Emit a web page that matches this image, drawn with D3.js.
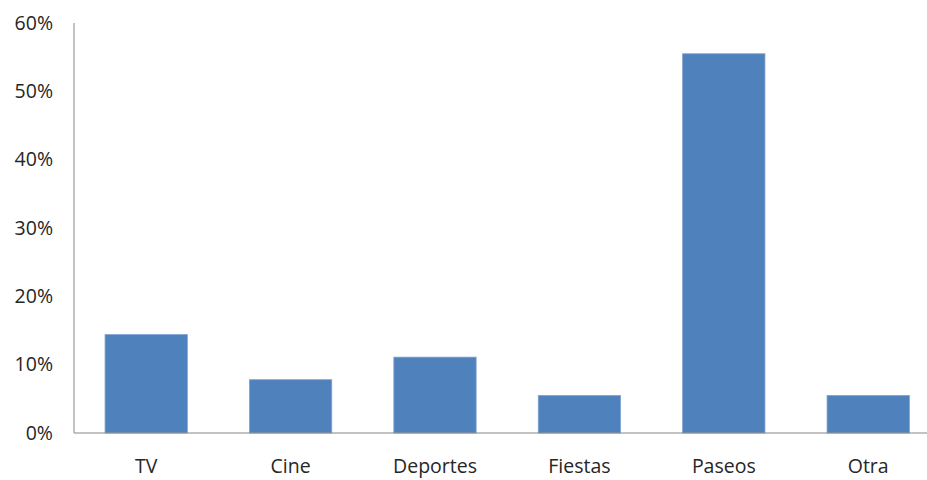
<!DOCTYPE html>
<html>
<head>
<meta charset="utf-8">
<script src="https://cdn.jsdelivr.net/npm/d3@7"></script>
<style>
  body { margin: 0; background: #fff; }
  text { font-family: "Open Sans", "DejaVu Sans", sans-serif; fill: #262626; }
</style>
</head>
<body>
<svg id="chart" width="927" height="480"></svg>
<script>
var categories = ["TV", "Cine", "Deportes", "Fiestas", "Paseos", "Otra"]
var values = [0.144, 0.078, 0.111, 0.055, 0.555, 0.055]
var yTicks = [0, 0.1, 0.2, 0.3, 0.4, 0.5, 0.6]

var svg = d3.select("#chart")
var plotLeft = 74, plotRight = 940.4, plotTop = 23, plotBottom = 433

var x = d3.scaleBand()
  .domain(categories)
  .range([plotLeft, plotRight])
  .paddingInner(0.43)
  .paddingOuter(0.215)

var y = d3.scaleLinear()
  .domain([0, 0.6])
  .range([plotBottom, plotTop])

// y axis labels
svg.append("g")
  .selectAll("text")
  .data(yTicks)
  .enter()
  .append("text")
  .attr("x", 53)
  .attr("y", d => y(d))
  .attr("dy", "0.35em")
  .attr("text-anchor", "end")
  .style("font-size", "19.5px")
  .text(d => d3.format(".0%")(d))

// bars
svg.append("g")
  .selectAll("rect")
  .data(values)
  .enter()
  .append("rect")
  .attr("x", (d, i) => x(categories[i]))
  .attr("y", d => y(d))
  .attr("width", x.bandwidth())
  .attr("height", d => plotBottom - y(d))
  .attr("fill", "#4f81bd")
  .attr("stroke", "#7fa3d1")
  .attr("stroke-width", 0.8)

// axes lines
svg.append("line")
  .attr("x1", plotLeft).attr("x2", plotLeft)
  .attr("y1", plotTop).attr("y2", plotBottom)
  .attr("stroke", "#868686").attr("stroke-width", 1)
svg.append("line")
  .attr("x1", plotLeft).attr("x2", 927)
  .attr("y1", plotBottom).attr("y2", plotBottom)
  .attr("stroke", "#868686").attr("stroke-width", 1)

// category labels
svg.append("g")
  .selectAll("text")
  .data(categories)
  .enter()
  .append("text")
  .attr("x", d => x(d) + x.bandwidth() / 2)
  .attr("y", 473)
  .attr("text-anchor", "middle")
  .style("font-size", "19.5px")
  .text(d => d)
</script>
</body>
</html>
